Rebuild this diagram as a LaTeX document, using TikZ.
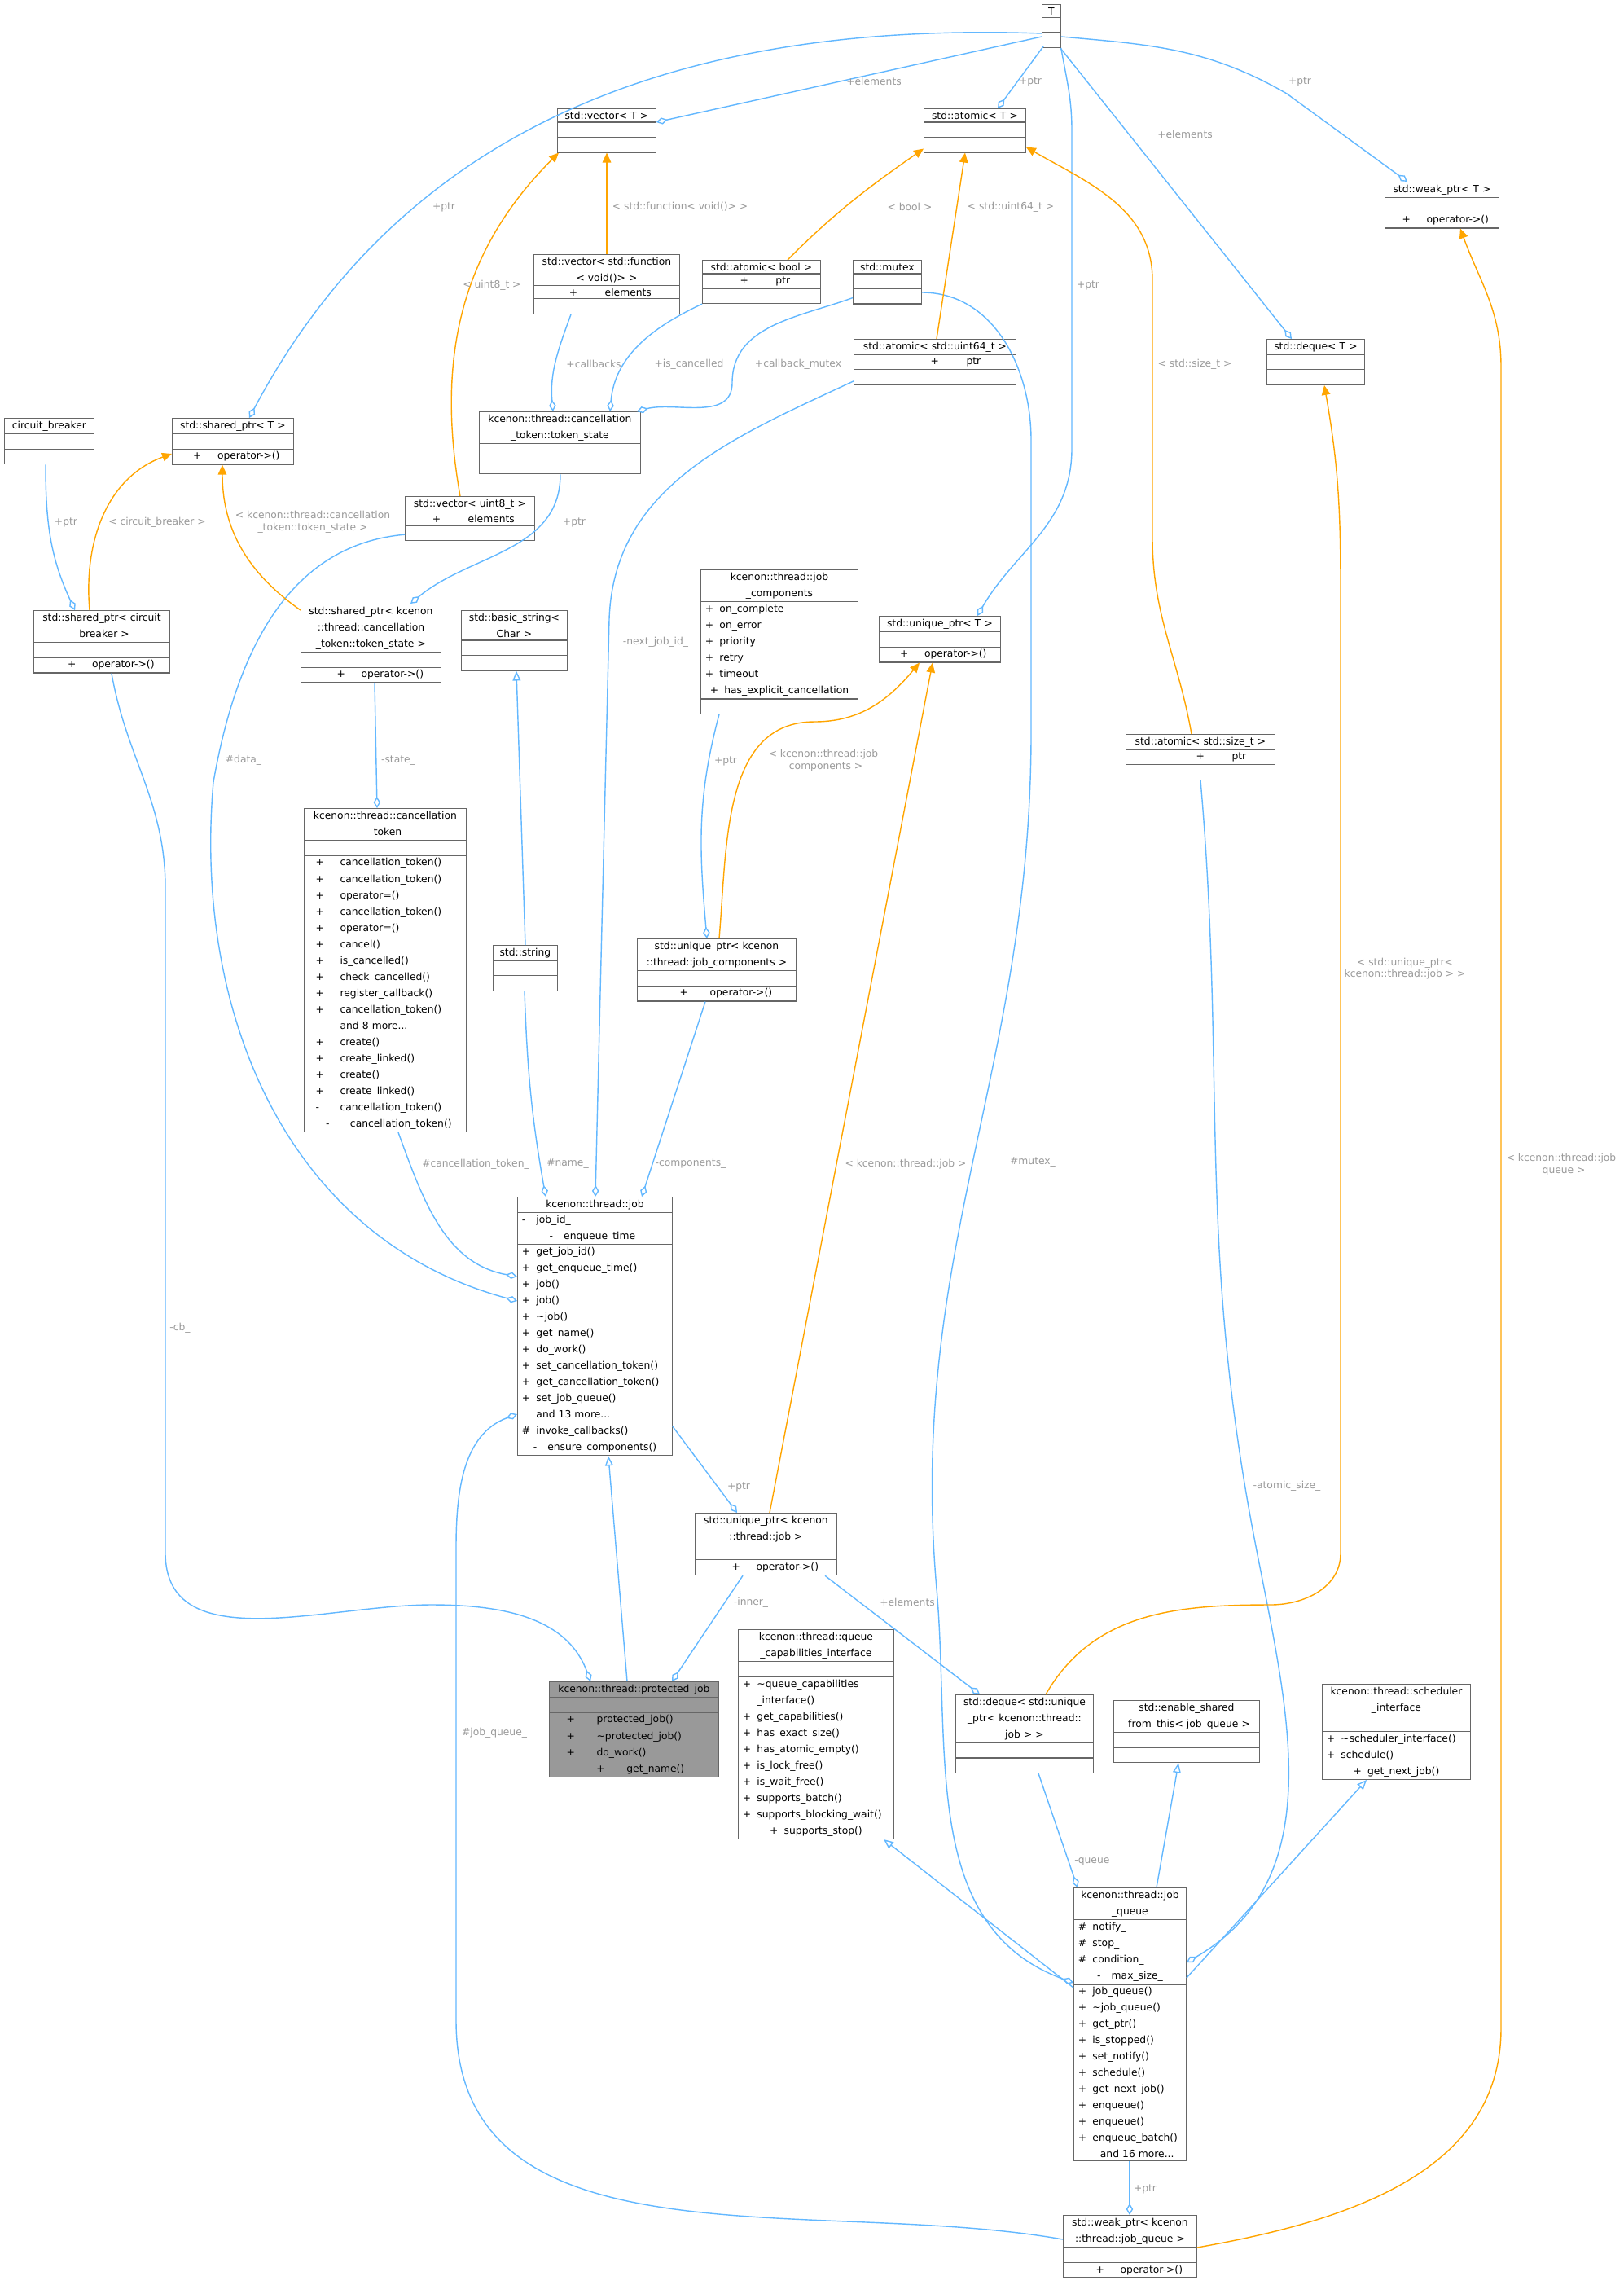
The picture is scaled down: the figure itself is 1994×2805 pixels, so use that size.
\documentclass[tikz,border=0pt]{standalone}
\usepackage{fontspec}
\setmainfont{DejaVu Sans}
\usetikzlibrary{shapes.multipart}
\usetikzlibrary{arrows.meta}
\usetikzlibrary{calc}

\definecolor{edgeblue}{HTML}{63B8FF}
\definecolor{tmplorange}{HTML}{FFA500}
\definecolor{lblgray}{HTML}{9A9A9A}
\definecolor{boxgray}{HTML}{666666}
\definecolor{selgray}{HTML}{999999}

\setlength{\parindent}{0pt}
\newcommand{\mb}[2]{\makebox[5pt][l]{#1}#2}
\newcommand{\mbw}[2]{\makebox[11pt][l]{\hspace{2.5pt}#1}#2}
\newcommand{\emp}{\rule{0pt}{3.3pt}}
\newcommand{\lft}{\raggedright}

\tikzset{
    cls/.style = {rectangle split, rectangle split parts = 3, draw = boxgray, line width = 0.35pt,
        fill = white, anchor = north west, align = center, inner xsep = 1.5pt, inner ysep = 0.8pt,
        font = \fontsize{3.5}{5.69}\selectfont},
    agg/.style = {draw = edgeblue, line width = 0.4pt, -{Diamond[open, length = 4pt, width = 2.4pt]}},
    inh/.style = {draw = edgeblue, line width = 0.4pt, -{Triangle[open, length = 3.4pt, width = 2.8pt]}},
    tmpl/.style = {draw = tmplorange, line width = 0.4pt, -{Triangle[length = 3.4pt, width = 3pt]}},
    lbl/.style = {font = \fontsize{3.5}{4.2}\selectfont, text = lblgray, align = center, inner sep = 0pt}
}

\begin{document}
\begin{tikzpicture}[x = 0.01cm, y = 0.01cm]
    \useasboundingbox [fill = white] (0, 0) rectangle (1994, -2805);

    % boxes
    \node [cls, text width = 0.12cm] (T) at (1279, -5) {T\nodepart{two}\emp\nodepart{three}\emp};
    \node [cls, text width = 1.10cm] (vecT) at (684, -133) {std::vector< T >\nodepart{two}\emp\nodepart{three}\emp};
    \node [cls, text width = 1.14cm] (atomT) at (1134, -133) {std::atomic< T >\nodepart{two}\emp\nodepart{three}\emp};
    \node [cls, text width = 1.29cm] (weakT) at (1700, -223) {std::weak\_ptr< T >\nodepart{two}\emp\nodepart{three}\lft\mbw{+}{operator->()}};
    \node [cls, text width = 1.68cm] (vecF) at (655, -312) {std::vector< std::function\\< void()> >\nodepart{two}\lft\mbw{+}{\hspace{4pt}elements}\nodepart{three}\emp};
    \node [cls, text width = 1.34cm] (atomB) at (862, -319) {std::atomic< bool >\nodepart{two}\lft\mbw{+}{\hspace{4pt}ptr}\nodepart{three}\emp};
    \node [cls, text width = 0.73cm] (mutex) at (1047, -319) {std::mutex\nodepart{two}\emp\nodepart{three}\emp};
    \node [cls, text width = 1.88cm] (atom64) at (1048, -416) {std::atomic< std::uint64\_t >\nodepart{two}\lft\mbw{\hspace{12pt}+}{\hspace{16pt}ptr}\nodepart{three}\emp};
    \node [cls, text width = 1.09cm] (dequeT) at (1555, -416) {std::deque< T >\nodepart{two}\emp\nodepart{three}\emp};
    \node [cls, text width = 0.99cm] (cb) at (5, -513) {circuit\_breaker\nodepart{two}\emp\nodepart{three}\emp};
    \node [cls, text width = 1.38cm] (shpT) at (211, -513) {std::shared\_ptr< T >\nodepart{two}\emp\nodepart{three}\lft\mbw{+}{operator->()}};
    \node [cls, text width = 1.87cm] (tokS) at (588, -505) {kcenon::thread::cancellation\\\_token::token\_state\nodepart{two}\emp\nodepart{three}\emp};
    \node [cls, text width = 1.48cm] (vec8) at (497, -609) {std::vector< uint8\_t >\nodepart{two}\lft\mbw{+}{\hspace{4pt}elements}\nodepart{three}\emp};
    \node [cls, text width = 1.56cm] (shcb) at (41, -749) {std::shared\_ptr< circuit\\\_breaker >\nodepart{two}\emp\nodepart{three}\lft\mbw{\hspace{4pt}+}{\hspace{4pt}operator->()}};
    \node [cls, text width = 1.61cm] (shts) at (369, -741) {std::shared\_ptr< kcenon\\::thread::cancellation\\\_token::token\_state >\nodepart{two}\emp\nodepart{three}\lft\mbw{\hspace{4pt}+}{\hspace{4pt}operator->()}};
    \node [cls, text width = 1.19cm] (bstr) at (566, -749) {std::basic\_string<\\Char >\nodepart{two}\emp\nodepart{three}\emp};
    \node [cls, text width = 1.82cm] (jc) at (860, -699) {kcenon::thread::job\\\_components\nodepart{two}\lft\mb{+}{on\_complete}\\\mb{+}{on\_error}\\\mb{+}{priority}\\\mb{+}{retry}\\\mb{+}{timeout}\\\mb{+}{has\_explicit\_cancellation}\nodepart{three}\emp};
    \node [cls, text width = 1.38cm] (uptrT) at (1079, -756) {std::unique\_ptr< T >\nodepart{two}\emp\nodepart{three}\lft\mbw{+}{operator->()}};
    \node [cls, text width = 1.72cm] (atomS) at (1382, -901) {std::atomic< std::size\_t >\nodepart{two}\lft\mbw{\hspace{12pt}+}{\hspace{16pt}ptr}\nodepart{three}\emp};
    \node [cls, text width = 1.88cm] (canc) at (373, -992) {kcenon::thread::cancellation\\\_token\nodepart{two}\emp\nodepart{three}\lft
        \mbw{+}{cancellation\_token()}\\\mbw{+}{cancellation\_token()}\\\mbw{+}{operator=()}\\\mbw{+}{cancellation\_token()}\\
        \mbw{+}{operator=()}\\\mbw{+}{cancel()}\\\mbw{+}{is\_cancelled()}\\\mbw{+}{check\_cancelled()}\\
        \mbw{+}{register\_callback()}\\\mbw{+}{cancellation\_token()}\\\mbw{}{and 8 more...}\\\mbw{+}{create()}\\
        \mbw{+}{create\_linked()}\\\mbw{+}{create()}\\\mbw{+}{create\_linked()}\\\mbw{-}{cancellation\_token()}\\
        \mbw{-}{cancellation\_token()}};
    \node [cls, text width = 0.68cm] (strg) at (605, -1160) {std::string\nodepart{two}\emp\nodepart{three}\emp};
    \node [cls, text width = 1.84cm] (upjc) at (782, -1152) {std::unique\_ptr< kcenon\\::thread::job\_components >\nodepart{two}\emp\nodepart{three}\lft\mbw{\hspace{4pt}+}{\hspace{6pt}operator->()}};
    \node [cls, text width = 1.79cm] (job) at (635, -1469) {kcenon::thread::job\nodepart{two}\lft\mb{-}{job\_id\_}\\\mb{-}{enqueue\_time\_}\nodepart{three}\lft
        \mb{+}{get\_job\_id()}\\\mb{+}{get\_enqueue\_time()}\\\mb{+}{job()}\\\mb{+}{job()}\\\mb{+}{\textasciitilde job()}\\
        \mb{+}{get\_name()}\\\mb{+}{do\_work()}\\\mb{+}{set\_cancellation\_token()}\\\mb{+}{get\_cancellation\_token()}\\
        \mb{+}{set\_job\_queue()}\\\mb{}{and 13 more...}\\\mb{\#}{invoke\_callbacks()}\\\mb{-}{ensure\_components()}};
    \node [cls, text width = 1.63cm] (upj) at (853, -1857) {std::unique\_ptr< kcenon\\::thread::job >\nodepart{two}\emp\nodepart{three}\lft\mbw{\hspace{4pt}+}{\hspace{4pt}operator->()}};
    \node [cls, text width = 1.97cm, fill = selgray] (prot) at (674, -2064) {kcenon::thread::protected\_job\nodepart{two}\emp\nodepart{three}\lft
        \mbw{\hspace{2pt}+}{\hspace{4pt}protected\_job()}\\\mbw{\hspace{2pt}+}{\hspace{4pt}\textasciitilde protected\_job()}\\
        \mbw{\hspace{2pt}+}{\hspace{4pt}do\_work()}\\\mbw{\hspace{2pt}+}{\hspace{4pt}get\_name()}};
    \node [cls, text width = 1.80cm] (qci) at (906, -2000) {kcenon::thread::queue\\\_capabilities\_interface\nodepart{two}\emp\nodepart{three}\lft
        \mb{+}{\textasciitilde queue\_capabilities}\\\mb{}{\_interface()}\\\mb{+}{get\_capabilities()}\\\mb{+}{has\_exact\_size()}\\
        \mb{+}{has\_atomic\_empty()}\\\mb{+}{is\_lock\_free()}\\\mb{+}{is\_wait\_free()}\\\mb{+}{supports\_batch()}\\
        \mb{+}{supports\_blocking\_wait()}\\\mb{+}{supports\_stop()}};
    \node [cls, text width = 1.58cm] (dqj) at (1173, -2080) {std::deque< std::unique\\\_ptr< kcenon::thread::\\job > >\nodepart{two}\emp\nodepart{three}\emp};
    \node [cls, text width = 1.68cm] (esh) at (1367, -2087) {std::enable\_shared\\\_from\_this< job\_queue >\nodepart{two}\emp\nodepart{three}\emp};
    \node [cls, text width = 1.71cm] (sch) at (1623, -2067) {kcenon::thread::scheduler\\\_interface\nodepart{two}\emp\nodepart{three}\lft
        \mb{+}{\textasciitilde scheduler\_interface()}\\\mb{+}{schedule()}\\\mb{+}{get\_next\_job()}};
    \node [cls, text width = 1.27cm] (jq) at (1318, -2317) {kcenon::thread::job\\\_queue\nodepart{two}\lft\mb{\#}{notify\_}\\\mb{\#}{stop\_}\\\mb{\#}{condition\_}\\\mb{-}{max\_size\_}\nodepart{three}\lft
        \mb{+}{job\_queue()}\\\mb{+}{\textasciitilde job\_queue()}\\\mb{+}{get\_ptr()}\\\mb{+}{is\_stopped()}\\\mb{+}{set\_notify()}\\
        \mb{+}{schedule()}\\\mb{+}{get\_next\_job()}\\\mb{+}{enqueue()}\\\mb{+}{enqueue()}\\\mb{+}{enqueue\_batch()}\\\mb{}{and 16 more...}};
    \node [cls, text width = 1.53cm] (wjq) at (1305, -2719) {std::weak\_ptr< kcenon\\::thread::job\_queue >\nodepart{two}\emp\nodepart{three}\lft\mbw{\hspace{4pt}+}{\hspace{4pt}operator->()}};

    % members
    \draw [agg] ($(T.north west)+(0,-40)$) -- ($(vecT.north east)+(0,-17)$);
    \draw [agg] ($(T.north west)+(0,-36)$) to[out=178, in=62] ($(shpT.north west)+(95,0)$);
    \draw [agg] ($(T.north west)+(2,-52)$) -- ($(atomT.north west)+(91,0)$);
    \draw [agg] (T.south east) to[out=-80, in=90] (1316,-160) -- (1316,-551) to[out=-90, in=60] ($(uptrT.north west)+(121,0)$);
    \draw [agg] ($(T.north east)+(0,-55)$) -- ($(dequeT.north west)+(31,0)$);
    \draw [agg] ($(T.north east)+(0,-40)$) to[out=-5, in=150] (1580,-115) -- ($(weakT.north west)+(28,0)$);
    \draw [agg] ($(vecF.south west)+(46,0)$) to[out=-110, in=95] ($(tokS.north west)+(91,0)$);
    \draw [agg] (atomB.south west) to[out=205, in=85] ($(tokS.north west)+(161,0)$);
    \draw [agg] ($(mutex.south west)+(0,8)$) to[out=200, in=90] (899,-470) to[out=-90, in=15] ($(tokS.north east)+(-5,0)$);
    \draw [agg] ($(cb.south west)+(51,0)$) to[out=-90, in=115] ($(shcb.north west)+(51,0)$);
    \draw [agg] ($(tokS.south west)+(100,0)$) to[out=-90, in=40] ($(shts.north west)+(135,0)$);
    \draw [agg] ($(shts.south west)+(91,0)$) -- ($(canc.north west)+(90,0)$);
    \draw [agg] ($(vec8.south west)+(0,8)$) to[out=185, in=80] (262,-960) to[out=-95, in=165] ($(job.north west)+(0,-128)$);
    \draw [agg] ($(canc.south west)+(116,0)$) to[out=-70, in=170] ($(job.north west)+(0,-98)$);
    \draw [agg] ($(strg.south west)+(39,0)$) to[out=-88, in=100] ($(job.north west)+(35,0)$);
    \draw [agg] ($(atom64.south west)+(0,5)$) to[out=205, in=88] (748,-760) -- ($(job.north west)+(96,0)$);
    \draw [agg] ($(upjc.south west)+(84,0)$) -- ($(job.north west)+(153,0)$);
    \draw [agg] ($(jc.south west)+(23,0)$) to[out=-105, in=95] ($(upjc.north west)+(86,0)$);
    \draw [agg] ($(job.north east)+(0,-282)$) -- ($(upj.north west)+(52,0)$);
    \draw [agg] ($(upj.south west)+(59,0)$) -- ($(prot.north west)+(151,0)$);
    \draw [agg] ($(shcb.south west)+(96,0)$) to[out=-80, in=90] (203,-1090) -- (203,-1906) to[out=-90, in=180] (530,-1970) to[out=0, in=110] ($(prot.north west)+(51,0)$);
    \draw [agg] ($(upj.south west)+(160,0)$) -- ($(dqj.north west)+(30,0)$);
    \draw [agg] ($(dqj.south west)+(102,0)$) -- ($(jq.north west)+(5,0)$);
    \draw [agg] ($(mutex.north east)+(0,-40)$) to[out=0, in=90] (1266,-540) -- (1266,-900) to[out=-90, in=95] (1150,-1950) to[out=-85, in=160] ($(jq.north west)+(0,-117)$);
    \draw [agg] ($(atomS.south west)+(92,0)$) to[out=-85, in=100] (1533,-1850) to[out=-80, in=30] ($(jq.north east)+(0,-92)$);
    \draw [agg] ($(jq.south west)+(69,0)$) -- ($(wjq.north west)+(82,0)$);
    \draw [agg] ($(wjq.north west)+(0,-30)$) to[out=170, in=-90] (560,-2480) -- (560,-1900) to[out=90, in=200] ($(job.north west)+(0,-267)$);

    % inheritance
    \draw [inh] ($(prot.north west)+(96,0)$) -- ($(job.south west)+(112,0)$);
    \draw [inh] ($(strg.north west)+(40,0)$) -- ($(bstr.south west)+(68,0)$);
    \draw [inh] ($(jq.north west)+(0,-123)$) -- ($(qci.south west)+(179,0)$);
    \draw [inh] ($(jq.north west)+(102,0)$) -- ($(esh.south west)+(80,0)$);
    \draw [inh] ($(jq.north east)+(0,-111)$) -- ($(sch.south west)+(55,0)$);

    % template instances
    \draw [tmpl] ($(vecF.north west)+(90,0)$) -- ($(vecT.south west)+(61,0)$);
    \draw [tmpl] ($(vec8.north west)+(68,0)$) to[out=100, in=225] ($(vecT.south west)+(2,0)$);
    \draw [tmpl] ($(atomB.north west)+(105,0)$) to[out=45, in=215] ($(atomT.south west)+(0,5)$);
    \draw [tmpl] ($(atom64.north west)+(102,0)$) -- ($(atomT.south west)+(51,0)$);
    \draw [tmpl] ($(atomS.north west)+(81,0)$) to[out=100, in=-90] (1415,-660) -- (1415,-344) to[out=90, in=-30] ($(atomT.south east)+(0,7)$);
    \draw [tmpl] ($(shcb.north west)+(69,0)$) to[out=95, in=200] ($(shpT.north west)+(0,-44)$);
    \draw [tmpl] ($(shts.north west)+(0,-8)$) to[out=145, in=-90] ($(shpT.south west)+(62,0)$);
    \draw [tmpl] ($(upjc.north west)+(101,0)$) to[out=85, in=180] (1000,-886) to[out=0, in=-130] ($(uptrT.south west)+(50,0)$);
    \draw [tmpl] ($(upj.north west)+(92,0)$) -- ($(uptrT.south west)+(66,0)$);
    \draw [tmpl] ($(dqj.north west)+(111,0)$) to[out=60, in=180] (1560,-1970) to[out=0, in=-90] (1646,-1907) -- (1646,-720) to[out=90, in=-80] ($(dequeT.south west)+(71,0)$);
    \draw [tmpl] ($(wjq.north east)+(0,-40)$) to[out=10, in=-90] (1843,-2490) -- (1843,-450) to[out=90, in=-70] ($(weakT.south west)+(93,0)$);

    % labels
    \node [lbl] (l1) at (1073,-100) {+elements};
    \node [lbl] (l2) at (1265,-100) {+ptr};
    \node [lbl] (l3) at (1336,-350) {+ptr};
    \node [lbl] (l4) at (1455,-165) {+elements};
    \node [lbl] (l5) at (1596,-100) {+ptr};
    \node [lbl] (l6) at (545,-254) {+ptr};
    \node [lbl] (l7) at (835,-254) {< std::function< void()> >};
    \node [lbl] (l8) at (604,-350) {< uint8\_t >};
    \node [lbl] (l9) at (1117,-254) {< bool >};
    \node [lbl] (l10) at (1241,-254) {< std::uint64\_t >};
    \node [lbl] (l11) at (1467,-447) {< std::size\_t >};
    \node [lbl] (l12) at (729,-447) {+callbacks};
    \node [lbl] (l13) at (846,-447) {+is\_cancelled};
    \node [lbl] (l14) at (980,-447) {+callback\_mutex};
    \node [lbl] (l15) at (81,-641) {+ptr};
    \node [lbl] (l16) at (193,-641) {< circuit\_breaker >};
    \node [lbl] (l17) at (384,-641) {< kcenon::thread::cancellation\\\_token::token\_state >};
    \node [lbl] (l18) at (705,-641) {+ptr};
    \node [lbl] (l19) at (805,-788) {-next\_job\_id\_};
    \node [lbl] (l20) at (489,-934) {-state\_};
    \node [lbl] (l21) at (299,-933) {\#data\_};
    \node [lbl] (l22) at (891,-934) {+ptr};
    \node [lbl] (l23) at (1011,-934) {< kcenon::thread::job\\\_components >};
    \node [lbl] (l24) at (584,-1429) {\#cancellation\_token\_};
    \node [lbl] (l25) at (697,-1429) {\#name\_};
    \node [lbl] (l26) at (848,-1429) {-components\_};
    \node [lbl] (l27) at (1112,-1429) {< kcenon::thread::job >};
    \node [lbl] (l28) at (1268,-1427) {\#mutex\_};
    \node [lbl] (l29) at (907,-1825) {+ptr};
    \node [lbl] (l30) at (1580,-1824) {-atomic\_size\_};
    \node [lbl] (l31) at (1725,-1189) {< std::unique\_ptr<\\kcenon::thread::job > >};
    \node [lbl] (l32) at (1917,-1430) {< kcenon::thread::job\\\_queue >};
    \node [lbl] (l33) at (221,-1630) {-cb\_};
    \node [lbl] (l34) at (922,-1967) {-inner\_};
    \node [lbl] (l35) at (1114,-1967) {+elements};
    \node [lbl] (l36) at (607,-2127) {\#job\_queue\_};
    \node [lbl] (l37) at (1344,-2285) {-queue\_};
    \node [lbl] (l38) at (1406,-2687) {+ptr};
\end{tikzpicture}
\end{document}
